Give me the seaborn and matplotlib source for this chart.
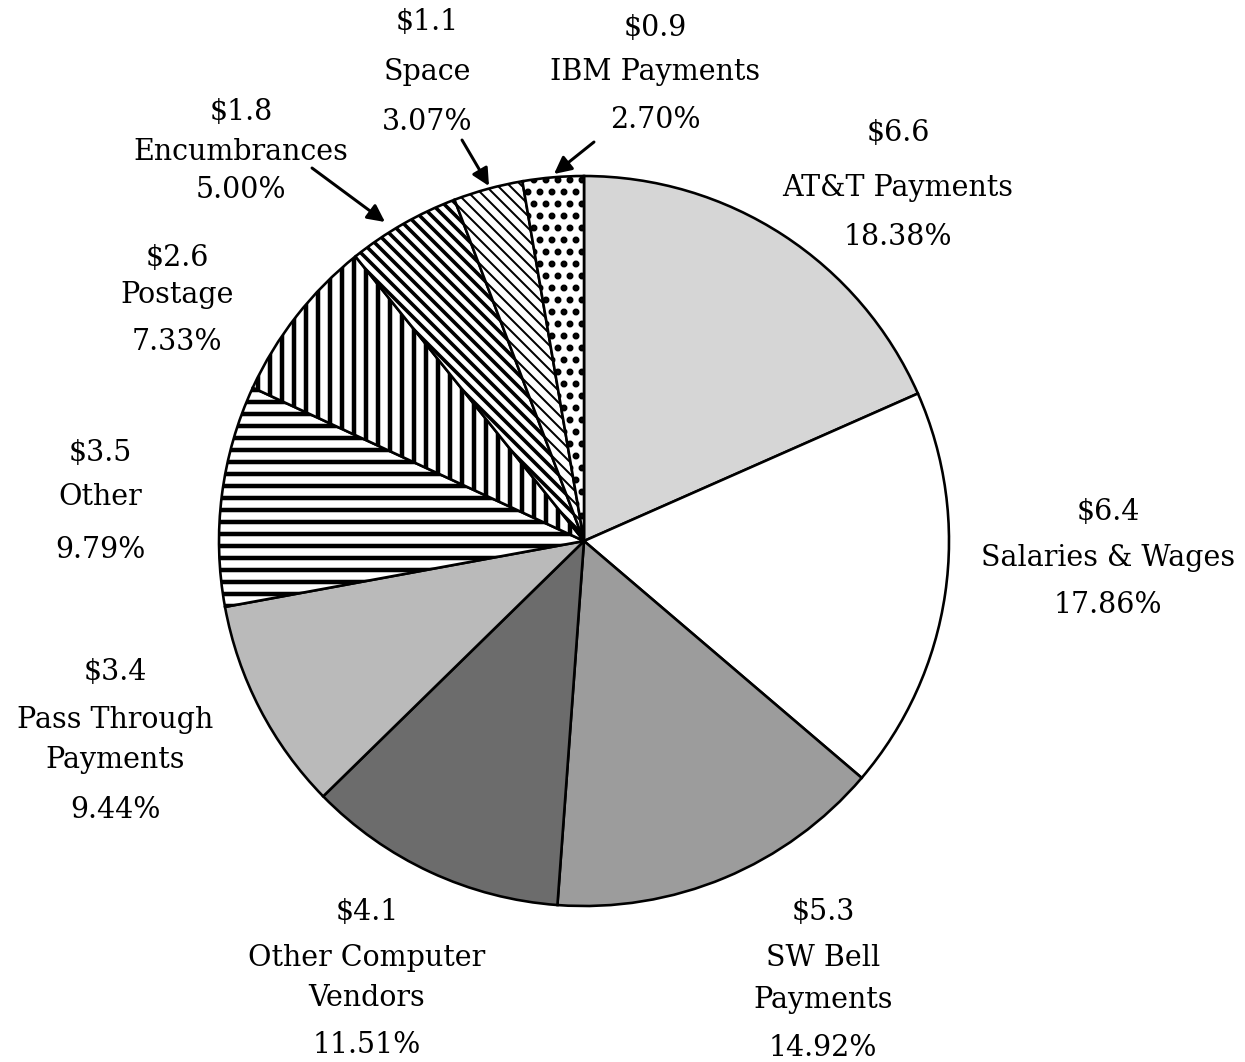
import matplotlib
matplotlib.use("Agg")
import matplotlib.pyplot as plt
import seaborn as sns

# slices, clockwise from 12 o'clock
categories = ["AT&T Payments", "Salaries & Wages", "SW Bell\nPayments",
              "Other Computer\nVendors", "Pass Through\nPayments", "Other",
              "Postage", "Encumbrances", "Space", "IBM Payments"]
amounts = [6.6, 6.4, 5.3, 4.1, 3.4, 3.5, 2.6, 1.8, 1.1, 0.9]
shares = [18.38, 17.86, 14.92, 11.51, 9.44, 9.79, 7.33, 5.00, 3.07, 2.70]

# fills / patterns per slice
face_colors = ["#d6d6d6", "white", "#9c9c9c", "#6c6c6c", "#bababa",
               "white", "white", "white", "white", "white"]
hatches = [None, None, None, None, None, "-", "|", "\\\\", "\\\\", "."]
hatch_widths = [1, 1, 1, 1, 1, 4.5, 4.5, 3.6, 2.0, 4.5]

# label placement in pixels: centre x and y of each text line
label_x = [898, 1108, 823, 367, 115, 100, 177, 241, 427, 655]
label_y = [[133, 188, 237], [512, 558, 605], [912, 958, 1000, 1048],
           [912, 958, 998, 1045], [672, 720, 760, 810], [453, 497, 550],
           [258, 295, 342], [112, 152, 190], [22, 72, 122], [28, 72, 120]]
arrows = {7: ((312, 168), (385, 222)), 8: ((462, 140), (489, 186)),
          9: ((594, 142), (554, 174))}

W, H = 1245, 1062
DPI = 72  # 1 pt == 1 px, keeps hatch spacing near the scan
CX, CY, R = 584, 541, 365


def px(x, y):
    return (x - CX) / R, (CY - y) / R


def main():
    sns.set_style("white")
    plt.rcParams["font.family"] = ["DejaVu Serif"]
    plt.rcParams["hatch.linewidth"] = 4.0

    fig = plt.figure(figsize=(W / DPI, H / DPI), dpi=DPI)
    ax = fig.add_axes([0, 0, 1, 1])

    wedges, _ = ax.pie(shares, startangle=90, counterclock=False,
                       colors=face_colors, radius=1,
                       wedgeprops=dict(edgecolor="black", linewidth=2.6))
    for w, h, hw in zip(wedges, hatches, hatch_widths):
        if h:
            w.set_hatch(h)
            if hasattr(w, "set_hatch_linewidth"):
                w.set_hatch_linewidth(hw)

    for i, name in enumerate(categories):
        lines = [f"${amounts[i]:.1f}"] + name.split("\n") + [f"{shares[i]:.2f}%"]
        for txt, y in zip(lines, label_y[i]):
            tx, ty = px(label_x[i], y)
            ax.text(tx, ty, txt, ha="center", va="center", fontsize=28.5,
                    color="black")

    for i, (tail, head) in arrows.items():
        ax.annotate("", xy=px(*head), xytext=px(*tail),
                    arrowprops=dict(arrowstyle="-|>", color="black", lw=3,
                                    mutation_scale=36, shrinkA=0, shrinkB=0))

    ax.set_xlim(-CX / R, (W - CX) / R)
    ax.set_ylim((CY - H) / R, CY / R)
    ax.set_aspect("equal", adjustable="datalim")
    ax.axis("off")

    fig.savefig("out.png", dpi=DPI, facecolor="white")
    plt.close(fig)


if __name__ == "__main__":
    main()
